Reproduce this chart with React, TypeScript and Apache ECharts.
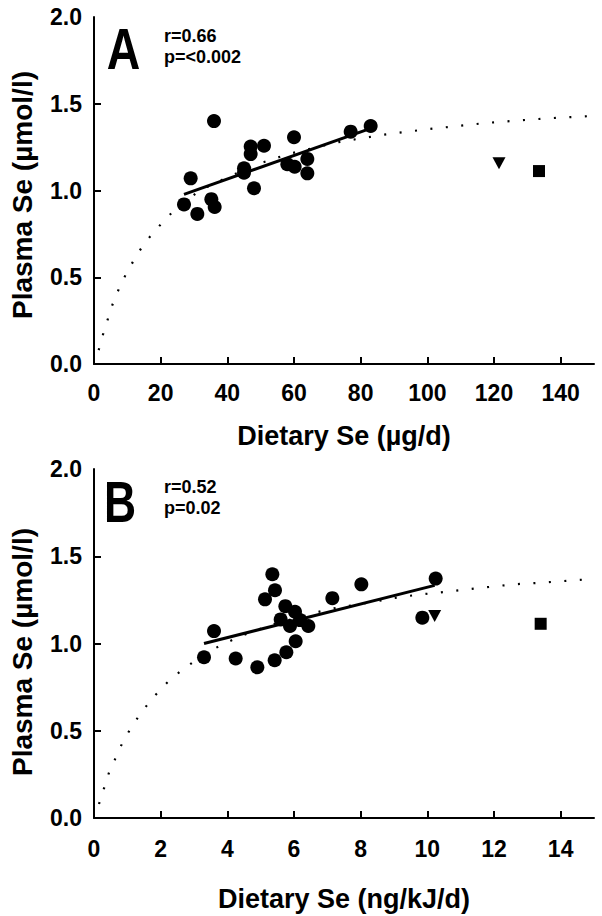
import React, { useEffect, useRef } from "react";
import * as echarts from "echarts";

const FONT = "'Liberation Sans', Arial, Helvetica, sans-serif";

// ---------- Panel A (Dietary Se, µg/d) ----------
const xLabelsA = [0, 20, 40, 60, 80, 100, 120, 140];
const xTicksA = [20, 40, 60, 80, 100, 120, 140];
const circlesA: [number, number][] = [
  [36, 1.4], [29, 1.07], [27, 0.92], [31, 0.865], [35.2, 0.95], [36.2, 0.905],
  [45, 1.128], [45, 1.103], [47, 1.253], [47, 1.21], [51, 1.258], [48, 1.013],
  [60, 1.307], [58, 1.151], [60.2, 1.137], [64, 1.182], [64, 1.099], [77, 1.339], [83, 1.372],
];
const triangleA: [number, number][] = [[121.5, 1.157]];
const squareA: [number, number][] = [[133.5, 1.112]];
const regressionA: [number, number][] = [[27, 0.978], [83, 1.358]];
const curveA: [number, number][] = [
  [1.4, 0.08], [2.7, 0.17], [4.0, 0.25], [5.5, 0.34], [7.4, 0.43], [9.5, 0.515], [12, 0.6],
  [14.9, 0.69], [18.6, 0.775], [22.7, 0.86], [27, 0.93], [31.7, 1.0], [36.6, 1.045], [40.9, 1.085],
  [45.4, 1.12], [49.9, 1.157], [54.5, 1.186], [59, 1.214], [63.5, 1.233], [68, 1.255], [72.5, 1.276],
  [77, 1.291], [81.5, 1.304], [86, 1.32], [100, 1.353], [118, 1.39], [136, 1.416], [150, 1.43],
];

// ---------- Panel B (Dietary Se, ng/kJ/d) ----------
const xLabelsB = [0, 2, 4, 6, 8, 10, 12, 14];
const xTicksB = [2, 4, 6, 8, 10, 12, 14];
const circlesB: [number, number][] = [
  [3.3, 0.921], [3.6, 1.071], [4.25, 0.914], [4.9, 0.864], [5.42, 0.904], [5.77, 0.95],
  [5.35, 1.397], [5.43, 1.305], [5.13, 1.253], [5.74, 1.214], [6.03, 1.182], [5.6, 1.138],
  [6.18, 1.134], [5.88, 1.1], [6.43, 1.1], [6.05, 1.013], [7.15, 1.26], [8.02, 1.339],
  [10.25, 1.372], [9.85, 1.148],
];
const triangleB: [number, number][] = [[10.22, 1.157]];
const squareB: [number, number][] = [[13.4, 1.113]];
const regressionB: [number, number][] = [[3.3, 1.0], [10.22, 1.333]];
const curveB: [number, number][] = [
  [0.15, 0.08], [0.3, 0.17], [0.45, 0.26], [0.64, 0.34], [0.85, 0.43], [1.12, 0.52], [1.42, 0.605],
  [1.77, 0.69], [2.19, 0.775], [2.65, 0.85], [3.1, 0.91], [3.55, 0.965], [4.0, 1.007], [4.45, 1.046],
  [5.35, 1.109], [6.25, 1.155], [6.7, 1.18], [7.15, 1.2], [7.6, 1.214], [8.5, 1.243], [8.95, 1.259],
  [9.4, 1.272], [9.85, 1.282], [10.3, 1.291], [10.75, 1.3], [11.2, 1.31], [11.67, 1.32],
  [12.57, 1.339], [13.47, 1.349], [14.37, 1.362], [15, 1.37],
];

// ---------- shared y axis ----------
const yLabels = [0, 0.5, 1, 1.5, 2];
const yTicks = [0.5, 1, 1.5];

const statsA = ["r=0.66", "p=<0.002"];
const statsB = ["r=0.52", "p=0.02"];

const axisLineStyle = { color: "#000", width: 2 };
const labelStyle = { color: "#000", fontSize: 23, fontWeight: "bold", fontFamily: FONT };

function xAxis(gridIndex: number, max: number, interval: number, ticks: number[], labels: number[], margin: number) {
  return {
    type: "value",
    gridIndex,
    min: 0,
    max,
    interval,
    axisLine: { show: true, onZero: false, lineStyle: axisLineStyle },
    axisTick: { show: true, inside: true, length: 7, customValues: ticks, lineStyle: axisLineStyle },
    axisLabel: { ...labelStyle, margin, customValues: labels },
    splitLine: { show: false },
  };
}

function yAxis(gridIndex: number) {
  return {
    type: "value",
    gridIndex,
    min: 0,
    max: 2,
    interval: 0.5,
    axisLine: { show: true, onZero: false, lineStyle: axisLineStyle },
    axisTick: { show: true, inside: true, length: 7, customValues: yTicks, lineStyle: axisLineStyle },
    axisLabel: { ...labelStyle, margin: 12, customValues: yLabels, formatter: (v: number) => v.toFixed(1) },
    splitLine: { show: false },
  };
}

function panelSeries(idx: number, circles: [number, number][], tri: [number, number][], sq: [number, number][], reg: [number, number][], curve: [number, number][]) {
  return [
    {
      type: "line",
      xAxisIndex: idx,
      yAxisIndex: idx,
      data: curve,
      symbol: "none",
      smooth: false,
      lineStyle: { color: "#000", width: 2.2, type: [2, 13.5] },
      z: 1,
    },
    {
      type: "line",
      xAxisIndex: idx,
      yAxisIndex: idx,
      data: reg,
      symbol: "none",
      lineStyle: { color: "#000", width: 3 },
      z: 2,
    },
    {
      type: "scatter",
      xAxisIndex: idx,
      yAxisIndex: idx,
      data: circles,
      symbol: "circle",
      symbolSize: 14,
      itemStyle: { color: "#000", opacity: 1 },
      z: 3,
    },
    {
      type: "scatter",
      xAxisIndex: idx,
      yAxisIndex: idx,
      data: tri,
      symbol: "triangle",
      symbolRotate: 180,
      symbolSize: [13, 12],
      itemStyle: { color: "#000", opacity: 1 },
      z: 3,
    },
    {
      type: "scatter",
      xAxisIndex: idx,
      yAxisIndex: idx,
      data: sq,
      symbol: "rect",
      symbolSize: 12,
      itemStyle: { color: "#000", opacity: 1 },
      z: 3,
    },
  ];
}

function txt(text: string, x: number, y: number, fontSize: number, extra: any = {}) {
  return {
    type: "text",
    x,
    y,
    ...extra,
    style: {
      text,
      fill: "#000",
      fontSize,
      fontWeight: "bold",
      fontFamily: FONT,
      align: extra.align || "left",
      verticalAlign: "middle",
    },
  };
}

export default function App() {
  const ref = useRef<HTMLDivElement>(null);
  useEffect(() => {
    if (!ref.current) return;
    const chart = echarts.init(ref.current, null, { renderer: "svg" });
    chart.setOption({
      animation: false,
      backgroundColor: "#fff",
      grid: [
        { left: 94, top: 17, width: 500, height: 347 },
        { left: 94, top: 469, width: 500, height: 349 },
      ],
      xAxis: [xAxis(0, 150, 20, xTicksA, xLabelsA, 17), xAxis(1, 15, 2, xTicksB, xLabelsB, 19)],
      yAxis: [yAxis(0), yAxis(1)],
      series: [
        ...panelSeries(0, circlesA, triangleA, squareA, regressionA, curveA),
        ...panelSeries(1, circlesB, triangleB, squareB, regressionB, curveB),
      ],
      graphic: [
        txt("A", 123.5, 49, 58, { align: "center", scaleX: 0.8 }),
        txt(statsA[0], 164, 35.5, 18),
        txt(statsA[1], 164, 56.5, 18),
        txt("B", 120, 502, 57, { align: "center", scaleX: 0.78 }),
        txt(statsB[0], 164, 487, 18),
        txt(statsB[1], 164, 508, 18),
        txt("Dietary Se (\u00b5g/d)", 344, 435.5, 27, { align: "center" }),
        txt("Dietary Se (ng/kJ/d)", 344, 899, 27, { align: "center" }),
        txt("Plasma Se (\u00b5mol/l)", 22, 195, 28, { align: "center", rotation: Math.PI / 2 }),
        txt("Plasma Se (\u00b5mol/l)", 22, 652, 28, { align: "center", rotation: Math.PI / 2 }),
      ],
    });
    return () => chart.dispose();
  }, []);
  return (
    <div
      ref={ref}
      style={{ position: "fixed", left: 0, top: 0, width: 602, height: 916, background: "#fff" }}
    />
  );
}
